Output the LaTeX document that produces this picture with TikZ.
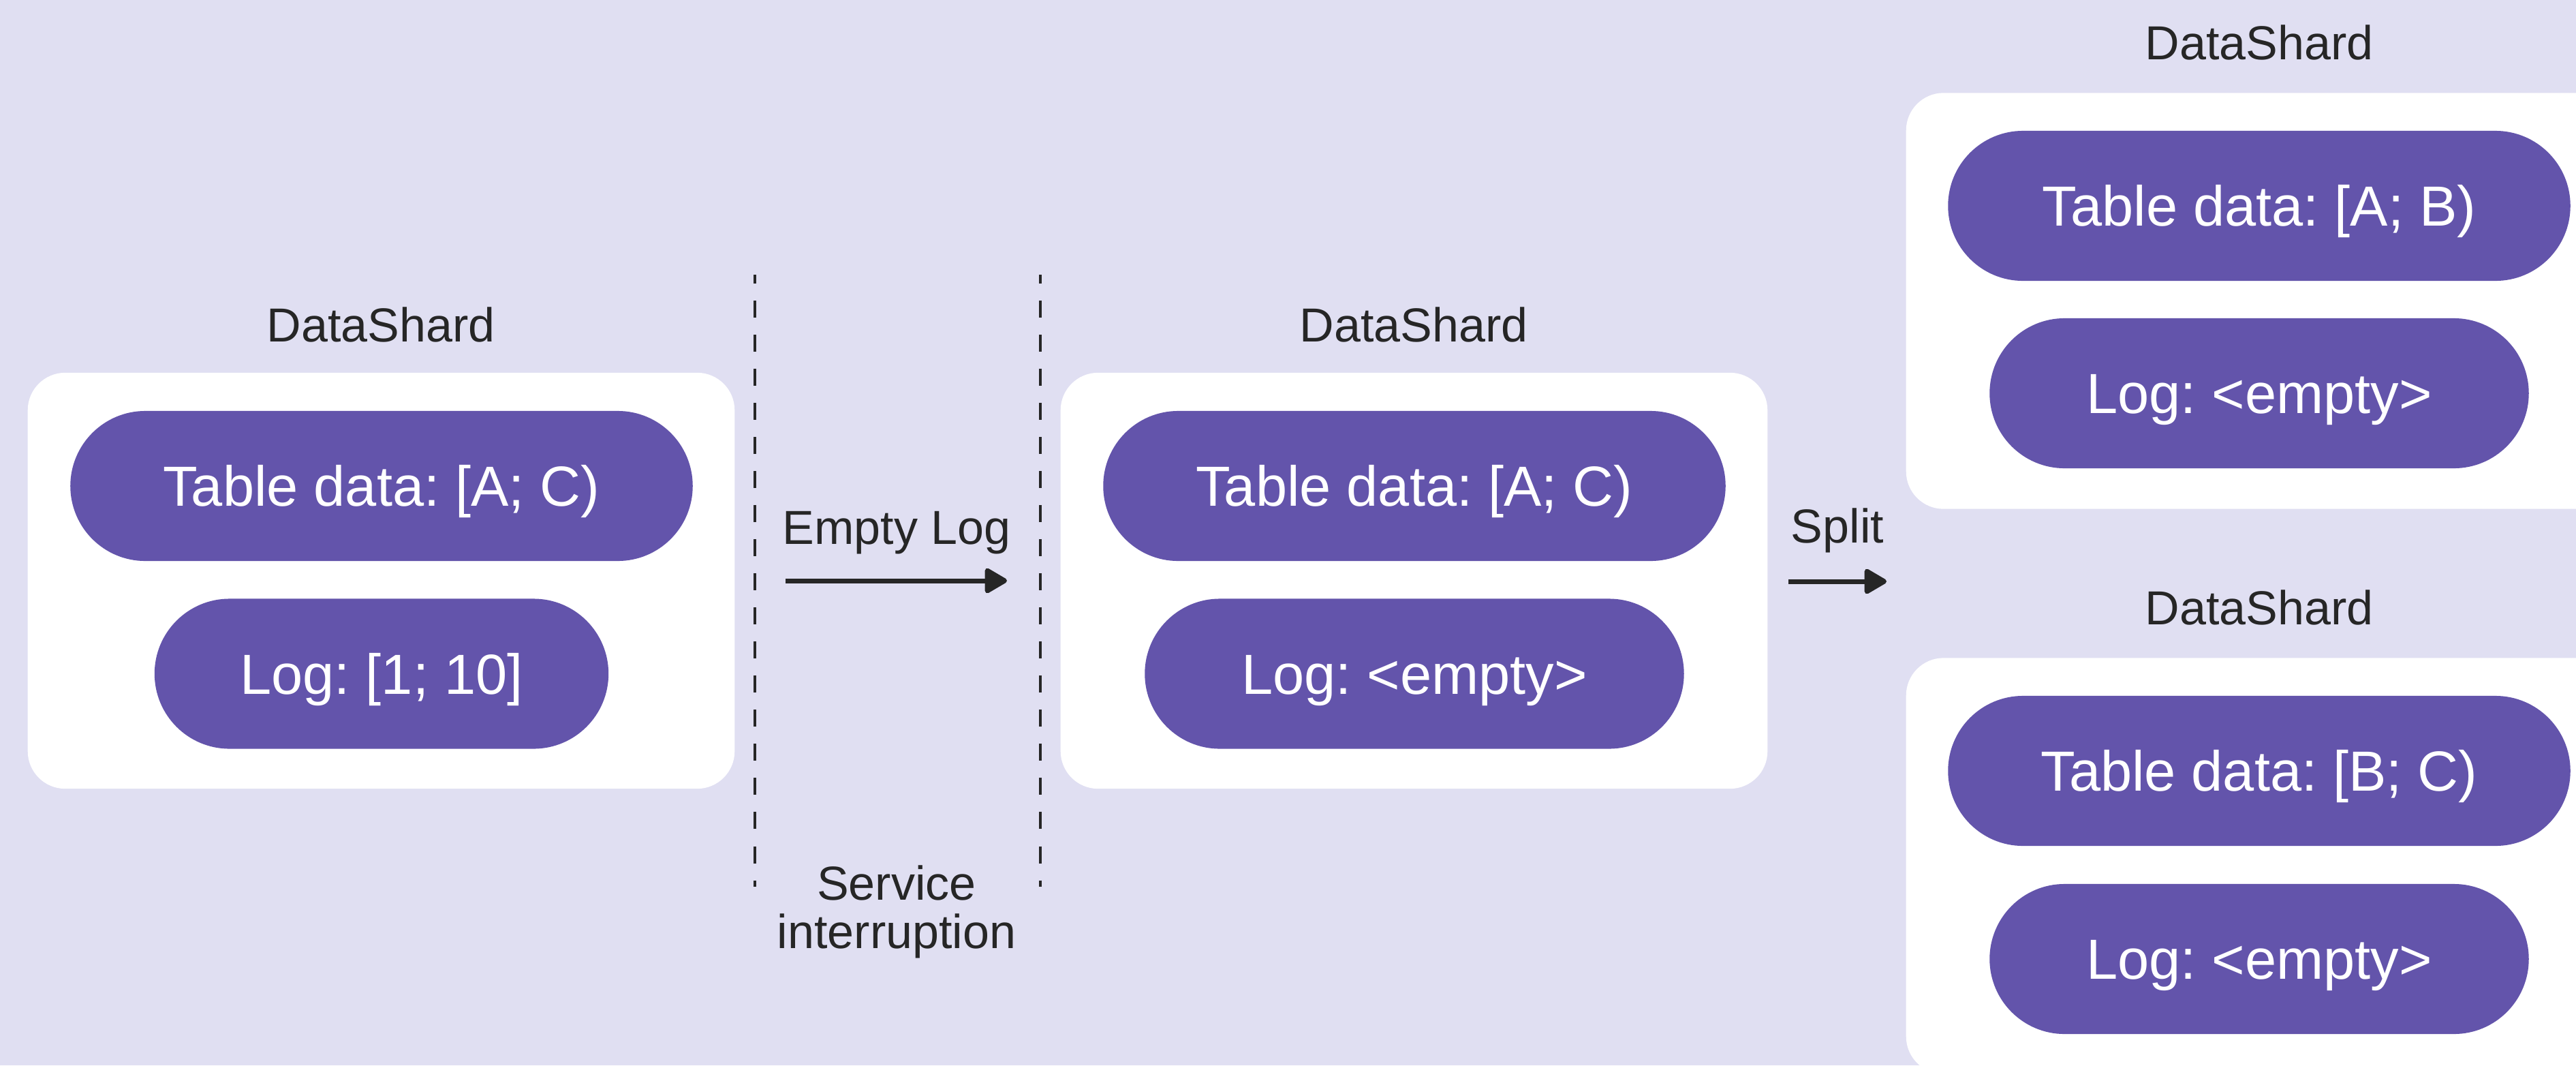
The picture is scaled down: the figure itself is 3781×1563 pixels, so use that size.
\documentclass[tikz,border=0pt]{standalone}
\usepackage{fontspec}
\setmainfont{Liberation Sans}
\usetikzlibrary{arrows.meta}
\definecolor{bg}{HTML}{E0DFF2}
\definecolor{pillfill}{HTML}{6354AB}
\definecolor{ink}{HTML}{262626}
\frenchspacing
\tikzset{
  shard/.style={fill=white, rounded corners=0.55cm, minimum width=10.37cm,
    minimum height=6.10cm, inner sep=0pt},
  pill/.style={fill=pillfill, text=white, rounded corners=1.1cm,
    minimum height=2.2cm, inner sep=0pt,
    font=\fontsize{23.6}{23.6}\selectfont, text height=0.59cm, text depth=0pt},
  widepill/.style={pill, minimum width=9.13cm},
  logpill/.style={pill, minimum width=7.91cm},
  shortpill/.style={pill, minimum width=6.66cm},
  caption/.style={text=ink, inner sep=0pt, anchor=base,
    font=\fontsize{19.92}{19.92}\selectfont},
  flow/.style={draw=ink, line width=0.07cm,
    -{Triangle[round, length=0.36cm, width=0.40cm]}},
  cut/.style={draw=ink, line width=0.045cm,
    dash pattern=on 0.25cm off 0.25cm, dash phase=0.12cm}
}
\begin{document}
\begin{tikzpicture}[x=0.01cm, y=-0.01cm]
\useasboundingbox (0,0) rectangle (3781,1563);
\clip (0,0) rectangle (3781,1563);
\fill[bg] (0,0) rectangle (3781,1563);

% shard containers
\node[shard] (s1) at (559.5,852) {};
\node[shard] (s2) at (2075.5,852) {};
\node[shard] (s3) at (3316.5,441.5) {};
\node[shard] (s4) at (3316.5,1270.5) {};

% shard headings
\node[caption] (h1) at (559,501) {DataShard};
\node[caption] (h2) at (2075,501) {DataShard};
\node[caption] (h3) at (3316,87) {DataShard};
\node[caption] (h4) at (3316,916) {DataShard};

% contents of each shard
\node[widepill] (t1) at (560,713) {Table data: [A; C)};
\node[shortpill] (l1) at (560,988.5) {Log: [1; 10]};
\node[widepill] (t2) at (2076,713) {Table data: [A; C)};
\node[logpill] (l2) at (2076,988.5) {Log: <empty>};
\node[widepill] (t3) at (3316,302) {Table data: [A; B)};
\node[logpill] (l3) at (3316,577) {Log: <empty>};
\node[widepill] (t4) at (3316,1131) {Table data: [B; C)};
\node[logpill] (l4) at (3316,1407) {Log: <empty>};

% service interruption window
\coordinate (c1a) at (1108,403);
\coordinate (c1b) at (1108,1301);
\coordinate (c2a) at (1527,403);
\coordinate (c2b) at (1527,1301);
\draw[cut] (c1a) -- (c1b);
\draw[cut] (c2a) -- (c2b);
\node[caption, align=center] (si) at (1316,1391) {Service\\interruption};

% transitions
\coordinate (e1) at (1153,852);
\coordinate (e2) at (1478,852);
\draw[flow] (e1) -- (e2);
\node[caption] (el) at (1316,798) {Empty Log};

\coordinate (p1) at (2625,853);
\coordinate (p2) at (2769,853);
\draw[flow] (p1) -- (p2);
\node[caption] (sp) at (2697,796) {Split};
\end{tikzpicture}
\end{document}
